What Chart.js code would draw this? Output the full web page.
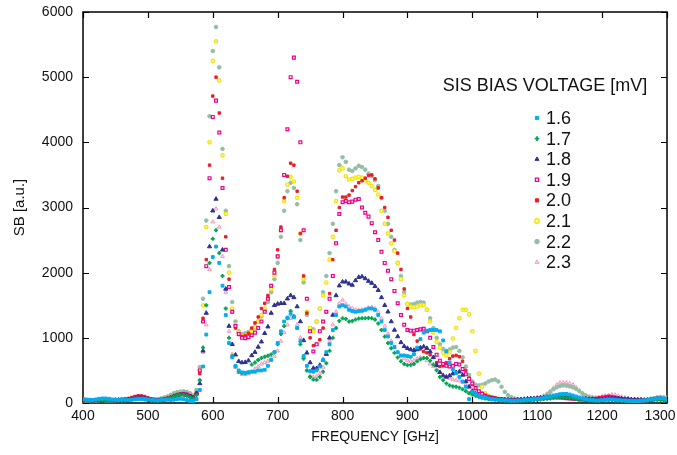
<!DOCTYPE html>
<html>
<head>
<meta charset="utf-8">
<title>SB vs frequency</title>
<script src="https://cdn.jsdelivr.net/npm/chart.js@4/dist/chart.umd.min.js"></script>
<style>
  body { margin: 0; background: #fff; }
</style>
</head>
<body>
<canvas id="sb-chart" width="677" height="455"></canvas>
<script>
// sampling grid, 400..1300 GHz every 5 GHz
const freqs = Array.from({ length: 181 }, (_, i) => 400 + i * 5);

const biasLabels = ['1.6', '1.7', '1.8', '1.9', '2.0', '2.1', '2.2', '2.3'];

// SB values, one row per 100 GHz (400-495, 500-595, ...)
const sb16 = [
  60, 55, 50, 45, 55, 65, 70, 70, 65, 55, 50, 45, 50, 50, 45, 50, 55, 60, 65, 60,
  55, 50, 45, 40, 45, 50, 50, 45, 50, 60, 65, 60, 45, 30, 30, 60, 200, 560, 1050, 1700,
  2240, 2400, 2150, 1800, 1350, 920, 700, 570, 500, 470, 465, 470, 480, 480, 500, 500, 510, 570, 660, 780,
  920, 1100, 1250, 1310, 1370, 1320, 1150, 950, 720, 570, 490, 480, 500, 560, 660, 780, 900, 1120, 1350, 1480,
  1500, 1480, 1430, 1410, 1400, 1410, 1415, 1430, 1450, 1450, 1430, 1350, 1250, 1120, 1020, 920, 860, 780, 730, 730,
  720, 710, 750, 850, 980, 1080, 1110, 1120, 1120, 1120, 1100, 960, 790, 620, 520, 460, 400, 330, 250, 60,
  170, 140, 110, 90, 80, 70, 60, 55, 50, 45, 40, 40, 35, 35, 40, 40, 45, 50, 55, 60,
  65, 70, 80, 90, 100, 115, 125, 135, 140, 140, 130, 115, 100, 85, 70, 60, 50, 45, 40, 40,
  45, 50, 55, 55, 50, 45, 40, 40, 35, 35, 30, 30, 35, 40, 45, 55, 65, 70, 75, 70,
  60
];
const sb17 = [
  40, 35, 30, 35, 40, 45, 40, 35, 30, 35, 40, 40, 35, 40, 45, 55, 65, 70, 65, 55,
  45, 40, 35, 35, 40, 50, 60, 80, 100, 115, 125, 125, 110, 90, 70, 120, 350, 850, 1500, 2150,
  2520, 2650, 2300, 1950, 1450, 1000, 720, 560, 480, 460, 455, 470, 590, 620, 660, 690, 710, 725, 745, 780,
  900, 1060, 1180, 1300, 1410, 1330, 1150, 900, 680, 500, 400, 360, 355, 400, 480, 610, 800, 1000, 1150, 1260,
  1300, 1290, 1250, 1260, 1280, 1295, 1300, 1300, 1305, 1300, 1280, 1220, 1120, 1020, 920, 840, 770, 700, 640, 600,
  580, 585, 600, 640, 670, 690, 690, 650, 590, 500, 400, 350, 300, 270, 255, 250, 235, 210, 180, 150,
  130, 110, 95, 80, 70, 60, 55, 50, 45, 40, 40, 35, 35, 30, 30, 35, 35, 40, 40, 45,
  50, 55, 60, 65, 70, 75, 80, 85, 85, 80, 75, 70, 60, 55, 50, 45, 40, 40, 35, 35,
  40, 40, 45, 45, 40, 35, 35, 30, 30, 30, 30, 35, 35, 40, 40, 45, 50, 50, 45, 40,
  40
];
const sb18 = [
  45, 40, 40, 35, 40, 45, 45, 40, 35, 40, 45, 45, 40, 45, 50, 60, 75, 85, 80, 65,
  50, 45, 40, 40, 45, 55, 65, 85, 105, 120, 130, 130, 120, 100, 80, 150, 300, 800, 1380, 2400,
  2950, 3130, 2850, 2350, 1750, 1180, 900, 740, 640, 620, 625, 650, 730, 780, 860, 940, 1070, 1170, 1380, 1500,
  1520, 1530, 1530, 1600, 1650, 1620, 1480, 1250, 960, 770, 620, 535, 530, 580, 660, 750, 1000, 1350, 1650, 1800,
  1860, 1860, 1830, 1810, 1880, 1930, 1940, 1910, 1870, 1840, 1790, 1730, 1620, 1500, 1400, 1250, 1120, 1020, 930, 870,
  840, 820, 810, 820, 850, 865, 840, 790, 700, 580, 470, 420, 400, 420, 450, 470, 480, 430, 330, 250,
  180, 140, 110, 90, 80, 70, 65, 60, 55, 55, 50, 50, 45, 45, 50, 55, 60, 65, 70, 70,
  75, 80, 85, 90, 95, 100, 100, 95, 90, 85, 80, 75, 70, 70, 65, 65, 60, 60, 55, 55,
  55, 60, 65, 70, 70, 65, 65, 60, 60, 55, 55, 50, 50, 45, 45, 50, 55, 60, 60, 55,
  55
];
const sb19 = [
  40, 45, 40, 35, 40, 50, 55, 50, 45, 40, 40, 45, 50, 50, 55, 65, 80, 95, 90, 75,
  60, 55, 50, 45, 50, 55, 65, 80, 100, 120, 135, 140, 130, 110, 90, 150, 500, 1250, 2100, 3450,
  4390, 4640, 4150, 3300, 2350, 1780, 1400, 1180, 1060, 1000, 995, 1010, 1040, 1080, 1150, 1250, 1400, 1600, 1800, 2000,
  2250, 2650, 3500, 4200, 5000, 5300, 4930, 4000, 2650, 1600, 1100, 790, 900, 1100, 1250, 1400, 1600, 1950, 2450, 2900,
  3080, 3100, 3080, 3090, 3120, 3130, 3000, 2920, 2860, 2760, 2620, 2500, 2320, 2150, 2030, 1900, 1720, 1530, 1350, 1200,
  1120, 1110, 1110, 1120, 1130, 1140, 1100, 1000, 860, 740, 650, 600, 570, 560, 570, 600, 590, 520, 440, 370,
  300, 230, 180, 140, 110, 90, 80, 70, 60, 55, 50, 45, 40, 40, 40, 45, 45, 50, 55, 60,
  65, 70, 75, 80, 85, 90, 90, 85, 80, 75, 70, 65, 60, 55, 55, 50, 50, 55, 60, 65,
  70, 75, 80, 80, 75, 65, 60, 55, 50, 45, 45, 40, 40, 40, 45, 50, 60, 70, 70, 60,
  55
];
const sb20 = [
  50, 45, 40, 40, 45, 50, 55, 50, 45, 40, 45, 50, 55, 60, 70, 85, 100, 110, 110, 100,
  80, 65, 55, 50, 50, 55, 65, 80, 100, 120, 135, 140, 130, 110, 90, 150, 450, 1300, 2200, 3650,
  4710, 5000, 4450, 3450, 2550, 1900, 1400, 1150, 1050, 1020, 1030, 1070, 1150, 1230, 1320, 1450, 1530, 1650, 1800, 2050,
  2350, 2700, 3150, 3480, 3680, 3650, 3250, 2600, 1950, 1380, 1000, 880, 900, 970, 1150, 1400, 1680, 2200, 2650, 3000,
  3160, 3160, 3190, 3260, 3320, 3380, 3410, 3450, 3490, 3500, 3440, 3300, 3150, 3000, 2850, 2650, 2500, 2300, 2050, 1750,
  1450, 1320, 1050, 950, 830, 790, 770, 740, 700, 620, 560, 570, 620, 680, 720, 730, 710, 640, 500, 380,
  280, 220, 180, 150, 120, 100, 85, 75, 65, 60, 55, 50, 50, 45, 45, 50, 50, 55, 60, 65,
  70, 75, 80, 85, 90, 95, 95, 90, 85, 80, 75, 70, 65, 60, 60, 55, 55, 60, 70, 80,
  90, 100, 105, 100, 90, 80, 70, 60, 55, 50, 45, 45, 40, 40, 45, 50, 55, 60, 60, 55,
  50
];
const sb21 = [
  45, 40, 40, 35, 40, 45, 50, 50, 45, 40, 45, 50, 55, 55, 60, 70, 80, 90, 85, 75,
  65, 55, 50, 45, 50, 55, 65, 85, 105, 125, 140, 145, 135, 115, 95, 150, 500, 1500, 2700, 4000,
  5250, 5550, 4950, 3800, 2900, 2000, 1450, 1200, 1080, 1030, 1030, 1060, 1100, 1160, 1250, 1350, 1450, 1600, 1750, 1950,
  2250, 2650, 3100, 3350, 3470, 3400, 3150, 2600, 1900, 1400, 1150, 1100, 1250, 1450, 1650, 1850, 2200, 2550, 3100, 3570,
  3600, 3480, 3430, 3440, 3460, 3470, 3460, 3420, 3380, 3330, 3270, 3200, 2950, 2750, 2600, 2450, 2330, 2150, 1900, 1650,
  1520, 1480, 1470, 1480, 1500, 1500, 1430, 1250, 1080, 940, 850, 770, 730, 780, 990, 1150, 1300, 1430, 1430, 1360,
  1100, 800, 450, 250, 150, 110, 90, 75, 65, 60, 55, 50, 50, 45, 45, 50, 50, 55, 60, 65,
  70, 75, 80, 85, 95, 105, 110, 110, 105, 100, 90, 80, 70, 60, 55, 50, 50, 50, 55, 60,
  65, 70, 70, 65, 60, 55, 50, 45, 40, 35, 35, 35, 40, 40, 45, 50, 55, 55, 50, 45,
  45
];
const sb22 = [
  40, 40, 35, 35, 40, 45, 50, 45, 40, 40, 45, 50, 50, 55, 60, 70, 80, 85, 80, 70,
  60, 55, 55, 60, 70, 85, 100, 125, 150, 165, 175, 180, 170, 150, 120, 200, 550, 1600, 2800, 4400,
  5400, 5770, 5150, 3900, 2950, 2100, 1550, 1250, 1100, 1060, 1070, 1090, 1130, 1180, 1250, 1330, 1420, 1550, 1700, 1900,
  2150, 2550, 2950, 3250, 3380, 3300, 3050, 2500, 1850, 1350, 1150, 1130, 1250, 1450, 1700, 1950, 2300, 2750, 3250, 3650,
  3770, 3700, 3580, 3560, 3600, 3640, 3620, 3580, 3520, 3480, 3420, 3330, 3150, 2950, 2750, 2550, 2350, 2150, 1950, 1700,
  1520, 1510, 1520, 1540, 1550, 1540, 1430, 1300, 1150, 1000, 900, 830, 800, 820, 850, 860, 800, 700, 560, 430,
  330, 280, 270, 280, 300, 330, 350, 360, 330, 250, 170, 120, 90, 70, 60, 55, 50, 50, 55, 60,
  70, 80, 100, 130, 170, 210, 240, 260, 270, 265, 255, 240, 215, 180, 140, 110, 90, 80, 70, 65,
  60, 60, 55, 55, 50, 50, 45, 45, 40, 40, 35, 40, 45, 50, 55, 65, 75, 85, 90, 85,
  80
];
const sb23 = [
  35, 35, 30, 30, 35, 40, 40, 35, 30, 35, 40, 40, 45, 45, 55, 65, 75, 80, 75, 65,
  55, 50, 45, 45, 50, 60, 75, 95, 115, 135, 150, 155, 145, 125, 100, 150, 350, 780, 1200, 2050,
  2780, 2980, 2700, 2250, 1700, 1100, 750, 550, 470, 440, 440, 450, 480, 520, 560, 600, 620, 640, 680, 720,
  800, 950, 1080, 1200, 1300, 1320, 1200, 1000, 700, 500, 420, 400, 410, 450, 550, 750, 950, 1200, 1400, 1530,
  1580, 1520, 1480, 1450, 1430, 1420, 1430, 1440, 1460, 1470, 1450, 1390, 1300, 1180, 1060, 950, 850, 780, 720, 680,
  650, 640, 650, 680, 700, 690, 650, 600, 560, 520, 470, 430, 400, 380, 360, 350, 340, 320, 280, 240,
  200, 180, 150, 120, 100, 85, 75, 65, 60, 55, 50, 50, 45, 45, 50, 50, 55, 60, 65, 70,
  80, 90, 110, 140, 180, 230, 280, 310, 315, 310, 300, 280, 240, 190, 150, 120, 100, 90, 85, 90,
  100, 110, 120, 130, 125, 110, 95, 80, 70, 60, 55, 50, 45, 45, 50, 55, 65, 75, 85, 80,
  70
];

const sbValues = [sb16, sb17, sb18, sb19, sb20, sb21, sb22, sb23];
sbValues.forEach((arr, i) => {
  if (arr.length !== freqs.length) throw new Error('series ' + biasLabels[i] + ' has ' + arr.length + ' values');
});

// marker look per bias voltage
const markerStyles = [
  { style: 'rect',     fill: '#00aeef', line: '#00aeef', radius: 2,   width: 1 },
  { style: 'cross',    fill: '#00a651', line: '#00a651', radius: 2,   width: 1.8 },
  { style: 'triangle', fill: '#2e3192', line: '#2e3192', radius: 2.4, width: 1 },
  { style: 'rect',     fill: '#ffffff', line: '#ec008c', radius: 2,   width: 1.2 },
  { style: 'rect',     fill: '#ed1c24', line: '#ed1c24', radius: 1.7, width: 1 },
  { style: 'circle',   fill: '#fff799', line: '#f2e300', radius: 1.7, width: 1.2 },
  { style: 'circle',   fill: '#93bea5', line: '#93bea5', radius: 1.8, width: 1 },
  { style: 'triangle', fill: '#fbdce9', line: '#f49ac1', radius: 2.2, width: 1 }
];

const fontFamily = '"Liberation Sans", Arial, Helvetica, sans-serif';

// box around the plot with inward ticks on all four sides
const frame = {
  id: 'frame',
  beforeDatasetsDraw(chart) {
    const { ctx, chartArea: a, scales: { x, y } } = chart;
    ctx.save();
    ctx.strokeStyle = '#000';
    ctx.lineWidth = 1.5;
    ctx.strokeRect(a.left, a.top, a.right - a.left, a.bottom - a.top);
    ctx.lineWidth = 1.2;
    ctx.beginPath();
    x.ticks.forEach(t => {
      const px = Math.round(x.getPixelForValue(t.value)) + 0.5;
      ctx.moveTo(px, a.bottom); ctx.lineTo(px, a.bottom - 6);
      ctx.moveTo(px, a.top); ctx.lineTo(px, a.top + 6);
    });
    y.ticks.forEach(t => {
      const py = Math.round(y.getPixelForValue(t.value)) + 0.5;
      ctx.moveTo(a.left, py); ctx.lineTo(a.left + 6, py);
      ctx.moveTo(a.right, py); ctx.lineTo(a.right - 6, py);
    });
    ctx.stroke();
    ctx.restore();
  }
};

// legend block inside the plot, top right
const biasLegend = {
  id: 'biasLegend',
  afterDraw(chart) {
    const ctx = chart.ctx;
    ctx.save();
    ctx.fillStyle = '#111';
    ctx.font = '18px ' + fontFamily;
    ctx.textBaseline = 'middle';
    ctx.textAlign = 'center';
    ctx.fillText('SIS BIAS VOLTAGE [mV]', 545, 86);
    ctx.textAlign = 'left';
    chart.data.datasets.forEach((ds, i) => {
      const y = 118 + i * 20.6;
      ctx.fillStyle = ds.backgroundColor;
      ctx.strokeStyle = ds.borderColor;
      ctx.lineWidth = ds.borderWidth;
      Chart.helpers.drawPoint(ctx, {
        pointStyle: ds.pointStyle, radius: 2.3, rotation: 0, borderWidth: ds.borderWidth
      }, 537, y);
      ctx.fillStyle = '#111';
      ctx.fillText(ds.label, 546, y + 1);
    });
    ctx.restore();
  }
};

const datasets = biasLabels.map((label, i) => {
  const m = markerStyles[i];
  return {
    label,
    data: freqs.map((f, j) => ({ x: f, y: sbValues[i][j] })),
    showLine: false,
    pointStyle: m.style,
    pointRadius: m.radius,
    backgroundColor: m.fill,
    borderColor: m.line,
    borderWidth: m.width
  };
});

new Chart(document.getElementById('sb-chart'), {
  type: 'scatter',
  data: { datasets },
  plugins: [frame, biasLegend],
  options: {
    responsive: false,
    animation: false,
    layout: { padding: { top: 12, right: 10, left: 0, bottom: 0 } },
    plugins: {
      legend: { display: false },
      tooltip: { enabled: false }
    },
    scales: {
      x: {
        type: 'linear',
        min: 400,
        max: 1300,
        afterFit(scale) {
          scale.height = 52;
          scale.paddingLeft = 0;
          scale.paddingRight = 0;
        },
        grid: { display: false, drawTicks: false },
        border: { display: false },
        ticks: {
          stepSize: 100,
          padding: 5,
          color: '#111',
          font: { family: fontFamily, size: 14 },
          // last label is nudged left so it stays inside the canvas
          callback: v => (v === 1300 ? '1300\u2002\u2002' : String(v))
        },
        title: {
          display: true,
          text: 'FREQUENCY [GHz]',
          color: '#111',
          padding: { top: 9, bottom: 9 },
          font: { family: fontFamily, size: 14 }
        }
      },
      y: {
        min: 0,
        max: 6000,
        afterFit(scale) {
          scale.width = 83;
          scale.paddingTop = 0;
          scale.paddingBottom = 0;
        },
        grid: { display: false, drawTicks: false },
        border: { display: false },
        ticks: {
          stepSize: 1000,
          padding: 10,
          color: '#111',
          font: { family: fontFamily, size: 14 },
          callback: v => String(v)
        },
        title: {
          display: true,
          text: 'SB [a.u.]',
          color: '#111',
          padding: { top: 11, bottom: 11 },
          font: { family: fontFamily, size: 15 }
        }
      }
    }
  }
});
</script>
</body>
</html>
